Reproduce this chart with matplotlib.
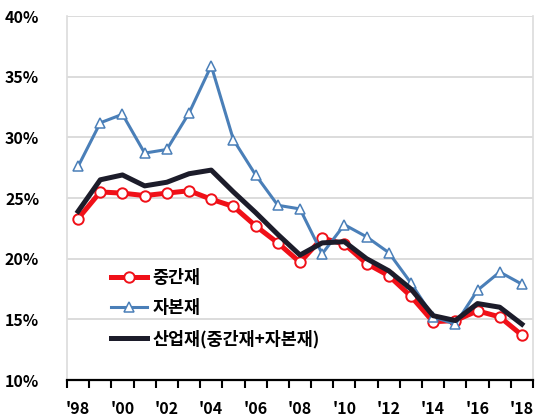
import matplotlib
matplotlib.use("Agg")
import matplotlib.pyplot as plt
import numpy as np

plt.rcParams['font.family'] = ['Noto Sans CJK KR', 'DejaVu Sans']
plt.rcParams['font.weight'] = 'bold'

# Shares by year (%)
years = list(range(1998, 2019))
year_labels = ["'98", "'00", "'02", "'04", "'06", "'08", "'10", "'12", "'14", "'16", "'18"]
intermediate = [23.3, 25.5, 25.4, 25.2, 25.4, 25.6, 24.9, 24.3, 22.7, 21.3, 19.7,
                21.7, 21.2, 19.6, 18.6, 16.9, 14.8, 14.9, 15.7, 15.2, 13.7]
capital = [27.6, 31.2, 31.9, 28.7, 29.0, 32.0, 35.9, 29.8, 26.9, 24.4, 24.1,
           20.4, 22.8, 21.8, 20.5, 18.0, 15.2, 14.6, 17.4, 18.9, 17.9]
industrial = [23.9, 26.5, 26.9, 26.0, 26.3, 27.0, 27.3, 25.5, 23.8, 22.0, 20.3,
              21.3, 21.4, 20.0, 19.0, 17.5, 15.3, 14.9, 16.3, 16.0, 14.6]
series_names = ['중간재', '자본재', '산업재(중간재+자본재)']
y_ticks = [10, 15, 20, 25, 30, 35, 40]

fig = plt.figure(figsize=(5.42, 4.18), dpi=100)
ax = fig.add_axes([0.1236, 0.0909, 0.8598, 0.8708])

x = np.arange(len(years))

ax.plot(x, intermediate, color='#f01018', lw=3.6, marker='o', ms=7.5,
        mfc='white', mec='#f01018', mew=1.4, label=series_names[0], zorder=3)
ax.plot(x, capital, color='#4a7fb8', lw=2.2, marker='^', ms=7,
        mfc='white', mec='#4a7fb8', mew=1.1, label=series_names[1], zorder=4)
ax.plot(x, industrial, color='#1c1c2a', lw=3.6, label=series_names[2], zorder=5)

ax.set_xlim(-0.5, len(years) - 0.5)
ax.set_ylim(10, 40)

ax.set_yticks(y_ticks)
ax.set_yticklabels([f'{v}%' for v in y_ticks])
ax.tick_params(axis='y', length=0, pad=20, labelsize=11.5)
ax.grid(axis='y', color='#d9d9d9', lw=1.3, zorder=0)

# category boundaries get tick marks; even years get labels
ax.set_xticks(np.arange(len(years) + 1) - 0.5)
ax.set_xticklabels([])
ax.tick_params(axis='x', which='major', length=6, width=1.5, color='black', direction='out')
label_pos = [years.index(1998 + 2 * i) for i in range(len(year_labels))]
ax.set_xticks(label_pos, minor=True)
ax.set_xticklabels(year_labels, minor=True)
ax.tick_params(axis='x', which='minor', length=0, pad=15, labelsize=11.5)

for side in ('left', 'right', 'top'):
    ax.spines[side].set_color('#dcdcdc')
    ax.spines[side].set_linewidth(1.2)
ax.spines['top'].set_visible(False)
ax.spines['bottom'].set_color('black')
ax.spines['bottom'].set_linewidth(1.6)

ax.legend(loc='lower left', bbox_to_anchor=(0.06, 0.045), frameon=False,
          numpoints=1, handlelength=2.1, handletextpad=0.3, labelspacing=0.7,
          prop={'size': 12.5, 'weight': 'bold'})

fig.savefig('out.png', dpi=100)
